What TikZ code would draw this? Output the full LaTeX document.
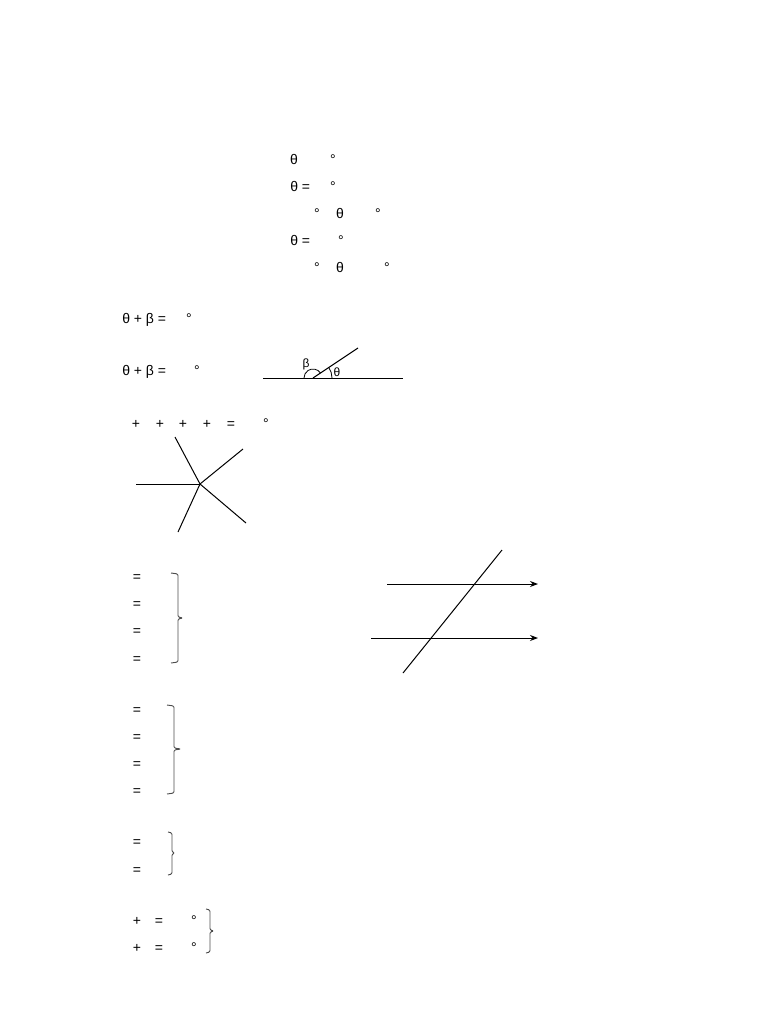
\documentclass[tikz,border=0pt]{standalone}
\usepackage{fontspec}
\setmainfont{Liberation Sans}
\usetikzlibrary{arrows.meta}
\begin{document}
\begin{tikzpicture}[x=0.75pt,y=-0.75pt,
  t/.style={anchor=base, inner sep=0pt, font=\fontsize{10.5}{12}\selectfont},
  tw/.style={t, anchor=base west},
  sm/.style={anchor=base, inner sep=0pt, font=\fontsize{9}{10}\selectfont},
  ln/.style={line width=0.75pt},
  br/.style={draw=black!70, line width=0.7pt, rounded corners=1pt},
  arr/.style={line width=0.75pt, -{Stealth[length=6pt,width=4.5pt]}}]
\path[use as bounding box] (0,0) rectangle (768,1024);

% ---- block 1
\node[t] (a1) at (294,164) {θ};
\node[t] (a1d) at (333,164) {°};
\node[tw] (a2) at (290,191) {θ =};
\node[t] (a2d) at (333,191) {°};
\node[t] (a3a) at (317,218) {°};
\node[t] (a3) at (340,218) {θ};
\node[t] (a3b) at (378,218) {°};
\node[tw] (a4) at (290,245) {θ =};
\node[t] (a4d) at (341,245) {°};
\node[t] (a5a) at (317,272) {°};
\node[t] (a5) at (340,272) {θ};
\node[t] (a5b) at (387,272) {°};

% ---- block 2
\node[tw] (b1) at (122,323) {θ + β =};
\node[t] (b1d) at (189,323) {°};
\node[tw] (b2) at (122,375) {θ + β =};
\node[t] (b2d) at (197,375) {°};

% angle figure
\coordinate (gl) at (263,378);
\coordinate (gr) at (403,378);
\coordinate (gv) at (313,378);
\coordinate (gray) at (358,348);
\draw[ln] (gl) -- (gr);
\draw[ln] (gv) -- (gray);
\draw[line width=0.6pt] (gv) ++(19,0) arc[start angle=0, end angle=-33.7, radius=19];
\draw[line width=0.6pt] (gv) ++(-33.7:9) arc[start angle=-33.7, end angle=-180, radius=9];
\node[sm] (lb) at (306,367) {β};
\node[sm] (lt) at (337,376) {θ};

% ---- block 3
\node[t] (c1) at (136,428) {+};
\node[t] (c2) at (160,428) {+};
\node[t] (c3) at (183,428) {+};
\node[t] (c4) at (207,428) {+};
\node[t] (c5) at (231,428) {=};
\node[t] (c6) at (266,428) {°};

\coordinate (sc) at (200,484);
\coordinate (s1) at (175,437);
\coordinate (s2) at (243,449);
\coordinate (s3) at (136,484);
\coordinate (s4) at (178,532);
\coordinate (s5) at (246,523);
\foreach \p in {s1,s2,s3,s4,s5} \draw[ln] (sc) -- (\p);

% ---- block 4
\node[t] (d1) at (137,581) {=};
\node[t] (d2) at (137,608) {=};
\node[t] (d3) at (137,635) {=};
\node[t] (d4) at (137,663) {=};
\draw[br] (171,573) -- (178,574) -- (178,617) -- (183,618) -- (178,619) -- (178,662) -- (171,663);

% parallel lines
\coordinate (p1a) at (387,584);
\coordinate (p1b) at (538,584);
\coordinate (p2a) at (371,638);
\coordinate (p2b) at (538,638);
\coordinate (tr1) at (502,550);
\coordinate (tr2) at (403,673);
\draw[arr] (p1a) -- (p1b);
\draw[arr] (p2a) -- (p2b);
\draw[ln] (tr1) -- (tr2);

% ---- block 5
\node[t] (e1) at (137,714) {=};
\node[t] (e2) at (137,741) {=};
\node[t] (e3) at (137,768) {=};
\node[t] (e4) at (137,795) {=};
\draw[br] (167,705) -- (174,706) -- (174,748) -- (181,749) -- (174,750) -- (174,793) -- (167,794);

% ---- block 6
\node[t] (f1) at (137,846) {=};
\node[t] (f2) at (137,874) {=};
\draw[br] (168,832) -- (172,833) -- (172,852) -- (175,853) -- (172,854) -- (172,874) -- (168,875);

% ---- block 7
\node[t] (g1) at (137,925) {+};
\node[t] (g2) at (159,925) {=};
\node[t] (g3) at (194,925) {°};
\node[t] (h1) at (137,952) {+};
\node[t] (h2) at (159,952) {=};
\node[t] (h3) at (194,952) {°};
\draw[br] (206,909) -- (210,910) -- (210,930) -- (214,931) -- (210,932) -- (210,952) -- (206,953);
\end{tikzpicture}
\end{document}
